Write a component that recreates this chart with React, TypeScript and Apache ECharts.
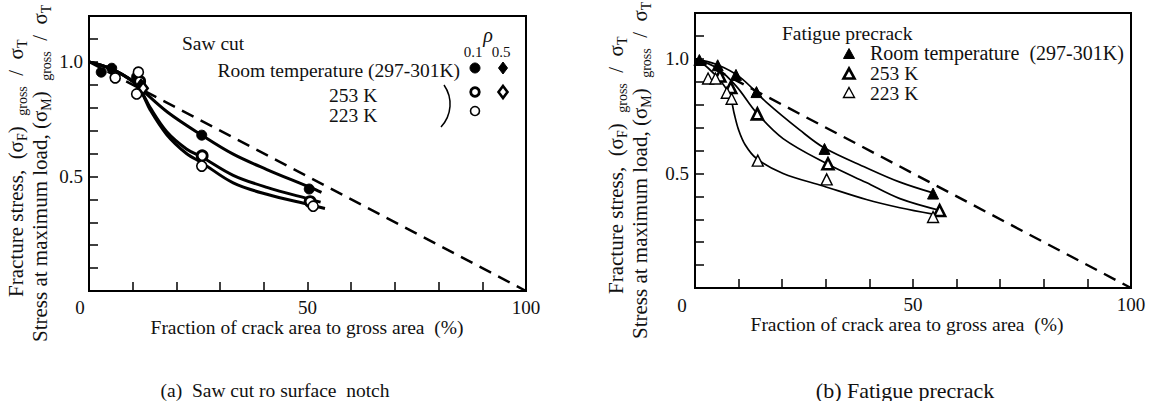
import React, { useEffect, useRef } from "react";
import * as echarts from "echarts";

const FONT = "Liberation Serif";

// ---------- Panel (a): saw cut ----------
const sawRoomPoints = [[2.8, 0.955], [5.2, 0.972], [10.9, 0.935], [25.8, 0.68], [50.4, 0.445]];
const saw253Points = [[11.6, 0.915], [25.9, 0.59], [50.6, 0.39]];
const saw223Points = [[6.0, 0.93], [11.3, 0.955], [10.9, 0.86], [25.8, 0.545], [51.3, 0.37]];
const sawRoomRho05Points = [[11.9, 0.9]];
const saw253Rho05Points = [[12.4, 0.885]];
const sawRoomCurve = [[0, 1], [5, 0.97], [10, 0.915], [12, 0.88], [18, 0.78], [25.8, 0.68], [33, 0.597], [40.7, 0.53], [50.6, 0.452], [53.2, 0.43]];
const saw253Curve = [[0, 1], [5, 0.97], [10, 0.915], [12, 0.87], [14, 0.8], [17.8, 0.695], [22.3, 0.62], [25.8, 0.585], [33, 0.505], [40.7, 0.452], [50.6, 0.4], [53, 0.388]];
const saw223Curve = [[0, 1], [5, 0.97], [10, 0.915], [12, 0.868], [14, 0.79], [17.8, 0.682], [22.3, 0.6], [25.8, 0.56], [33, 0.472], [40.7, 0.422], [50.6, 0.376], [54, 0.36]];

// ---------- Panel (b): fatigue precrack ----------
const fatRoomPoints = [[1.0, 0.995], [5.2, 0.972], [9.4, 0.93], [14.1, 0.855], [29.7, 0.607], [54.6, 0.412]];
const fat253Points = [[5.7, 0.925], [8.2, 0.875], [14.3, 0.76], [30.5, 0.542], [56.1, 0.338]];
const fat223Points = [[3.0, 0.914], [4.7, 0.914], [7.3, 0.852], [8.4, 0.826], [14.4, 0.556], [30.2, 0.474], [54.6, 0.31]];
const fatRoomCurve = [[0, 1], [5, 0.975], [10.3, 0.92], [16.4, 0.81], [24, 0.69], [29.6, 0.612], [39.3, 0.525], [47, 0.462], [54.6, 0.415]];
const fat253Curve = [[0, 1], [5, 0.96], [9.5, 0.88], [14.1, 0.765], [20.2, 0.652], [30.5, 0.54], [39.3, 0.46], [47, 0.39], [56.9, 0.335]];
const fat223Curve = [[0, 1], [3, 0.96], [6, 0.9], [8, 0.84], [9, 0.76], [10, 0.69], [11.5, 0.625], [14.1, 0.565], [20.2, 0.5], [29.4, 0.445], [39.3, 0.386], [47, 0.35], [54.6, 0.322]];

// Net-section (ideal) line
const idealLine = [[0, 1], [100, 0]];

// Tick labels
const xTickLabels = [50, 100];
const yTickLabels = [0.5, 1.0];

const LBL = 19.5;

function txt(text: string, x: number, y: number, align = "left", size = LBL, extra: any = {}) {
  return {
    type: "text",
    x,
    y,
    z: 10,
    silent: true,
    style: {
      text,
      fontSize: size,
      fontFamily: FONT,
      fill: "#111",
      align,
      verticalAlign: "middle",
      textAlign: align,
      textVerticalAlign: "middle",
      ...extra,
    },
  };
}

function yTitle(main: string, sub: string, x: number, yStart: number) {
  const m = { fontSize: 21, fontFamily: FONT, fill: "#111", color: "#111", lineHeight: 26 };
  const s = { fontSize: 14, fontFamily: FONT, fill: "#111", color: "#111", lineHeight: 26, verticalAlign: "bottom" };
  return {
    type: "text",
    x,
    y: yStart,
    rotation: Math.PI / 2,
    z: 10,
    silent: true,
    style: {
      text: `{m|${main} (σ}{s|${sub}}{m|)  }{s|gross}{m|  /  σ}{s|T}`,
      align: "left",
      verticalAlign: "middle",
      textAlign: "left",
      textVerticalAlign: "middle",
      rich: { m, s },
    },
  };
}

function tri(x: number, y: number, fill: string, lw: number) {
  return {
    type: "polygon",
    z: 10,
    silent: true,
    shape: { points: [[x, y - 5.5], [x + 5.5, y + 4.5], [x - 5.5, y + 4.5]] },
    style: { fill, stroke: "#000", lineWidth: lw },
  };
}

function diamond(x: number, y: number, fill: string, lw: number) {
  return {
    type: "polygon",
    z: 10,
    silent: true,
    shape: { points: [[x, y - 6], [x + 4.5, y], [x, y + 6], [x - 4.5, y]] },
    style: { fill, stroke: "#000", lineWidth: lw },
  };
}

function circ(x: number, y: number, r: number, fill: string, lw: number) {
  return {
    type: "circle",
    z: 10,
    silent: true,
    shape: { cx: x, cy: y, r },
    style: { fill, stroke: "#000", lineWidth: lw },
  };
}

function axisPair(gridIndex: number) {
  const x = {
    type: "value",
    gridIndex,
    min: 0,
    max: 100,
    interval: 10,
    axisLine: { show: true, lineStyle: { color: "#000", width: 2 } },
    axisTick: { show: true, inside: true, length: 9, lineStyle: { color: "#000", width: 1.5 } },
    splitLine: { show: false },
    axisLabel: {
      margin: 7,
      fontSize: 19,
      fontFamily: FONT,
      color: "#111",
      formatter: (v: number) => (xTickLabels.some((t) => Math.abs(t - v) < 1e-6) ? String(Math.round(v)) : ""),
    },
  };
  const y = {
    type: "value",
    gridIndex,
    min: 0,
    max: 1.2,
    interval: 0.1,
    axisLine: { show: true, lineStyle: { color: "#000", width: 2 } },
    axisTick: { show: true, inside: true, length: 9, lineStyle: { color: "#000", width: 1.5 } },
    splitLine: { show: false },
    axisLabel: {
      margin: 6,
      fontSize: 19,
      fontFamily: FONT,
      color: "#111",
      formatter: (v: number) => {
        const t = yTickLabels.find((q) => Math.abs(q - v) < 1e-6);
        return t === undefined ? "" : t.toFixed(1);
      },
    },
  };
  return { x, y };
}

function curve(data: number[][], idx: number, width: number) {
  return {
    type: "line",
    xAxisIndex: idx,
    yAxisIndex: idx,
    data,
    smooth: 0.35,
    showSymbol: false,
    symbol: "none",
    z: 2,
    lineStyle: { color: "#000", width },
  };
}

function dashed(idx: number) {
  return {
    type: "line",
    xAxisIndex: idx,
    yAxisIndex: idx,
    data: idealLine,
    showSymbol: false,
    symbol: "none",
    z: 1,
    lineStyle: { color: "#000", width: 2.4, type: [13, 8] },
  };
}

function scatter(data: number[][], idx: number, symbol: string, size: any, fill: string, bw: number) {
  return {
    type: "scatter",
    xAxisIndex: idx,
    yAxisIndex: idx,
    data,
    symbol,
    symbolSize: size,
    z: 4,
    itemStyle: { color: fill, borderColor: "#000", borderWidth: bw, opacity: 1 },
  };
}

export default function App() {
  const ref = useRef<HTMLDivElement>(null);
  useEffect(() => {
    if (!ref.current) return;
    const chart = echarts.init(ref.current, null, { renderer: "svg" });
    const a0 = axisPair(0);
    const a1 = axisPair(1);
    chart.setOption({
      animation: false,
      backgroundColor: "#fff",
      textStyle: { fontFamily: FONT },
      grid: [
        { left: 89, right: 624, top: 16, bottom: 110, show: true, borderColor: "#000", borderWidth: 2, backgroundColor: "transparent" },
        { left: 695, right: 19, top: 13, bottom: 113, show: true, borderColor: "#000", borderWidth: 2, backgroundColor: "transparent" },
      ],
      xAxis: [a0.x, a1.x],
      yAxis: [a0.y, a1.y],
      series: [
        dashed(0),
        curve(sawRoomCurve, 0, 3),
        curve(saw253Curve, 0, 3),
        curve(saw223Curve, 0, 3),
        scatter(sawRoomPoints, 0, "circle", 10, "#000", 1),
        scatter(saw253Points, 0, "circle", 10, "#fff", 2.8),
        scatter(saw223Points, 0, "circle", 10, "#fff", 1.6),
        scatter(sawRoomRho05Points, 0, "diamond", [9, 12], "#000", 1),
        scatter(saw253Rho05Points, 0, "diamond", [9, 12], "#fff", 2.6),
        dashed(1),
        curve(fatRoomCurve, 1, 1.7),
        curve(fat253Curve, 1, 1.7),
        curve(fat223Curve, 1, 1.7),
        scatter(fatRoomPoints, 1, "triangle", 11, "#000", 1),
        scatter(fat253Points, 1, "triangle", 11, "#fff", 2.6),
        scatter(fat223Points, 1, "triangle", 11, "#fff", 1.4),
      ],
      graphic: [
        // origin labels
        txt("0", 80, 307, "center", 19),
        txt("0", 682, 305, "center", 19),
        // x axis titles
        txt("Fraction of crack area to gross area  (%)", 307, 327, "center"),
        txt("Fraction of crack area to gross area  (%)", 907, 324, "center"),
        // y axis titles
        yTitle("Fracture stress, ", "F", 16, 297),
        yTitle("Stress at maximum load,", "M", 40, 342),
        yTitle("Fracture stress, ", "F", 616, 294),
        yTitle("Stress at maximum load,", "M", 640, 339),
        // legend (a)
        txt("Saw cut", 182, 43, "left"),
        txt("Room temperature (297-301K)", 460, 70, "right"),
        txt("253 K", 329, 95, "left"),
        txt("223 K", 329, 115, "left"),
        {
          type: "bezierCurve",
          z: 10,
          silent: true,
          shape: { x1: 444, y1: 85, x2: 441, y2: 127, cpx1: 453, cpy1: 98, cpx2: 452, cpy2: 115 },
          style: { stroke: "#000", lineWidth: 1.5, fill: null },
        },
        txt("ρ", 488, 35, "center", 20, { fontStyle: "italic" }),
        txt("0.1", 473, 52, "center", 15),
        txt("0.5", 501, 52, "center", 15),
        circ(475, 68, 5, "#000", 1),
        circ(475, 92, 4.3, "#fff", 2.8),
        circ(475, 111, 4.5, "#fff", 1.6),
        diamond(503, 68, "#000", 1),
        diamond(503, 92, "#fff", 2.6),
        // legend (b)
        txt("Fatigue precrack", 782, 33, "left"),
        tri(849, 54, "#000", 1),
        tri(849, 74, "#fff", 2.6),
        tri(849, 93, "#fff", 1.4),
        txt("Room temperature  (297-301K)", 870, 52.5, "left", 20),
        txt("253 K", 870, 73, "left"),
        txt("223 K", 870, 93, "left"),
        // captions
        txt("(a)  Saw cut ro surface  notch", 275, 390, "center"),
        txt("(b) Fatigue precrack", 905, 390, "center", 22),
      ],
    });
    return () => chart.dispose();
  }, []);
  return (
    <div
      ref={ref}
      style={{ position: "fixed", left: 0, top: 0, width: 1150, height: 401, background: "#fff" }}
    />
  );
}
